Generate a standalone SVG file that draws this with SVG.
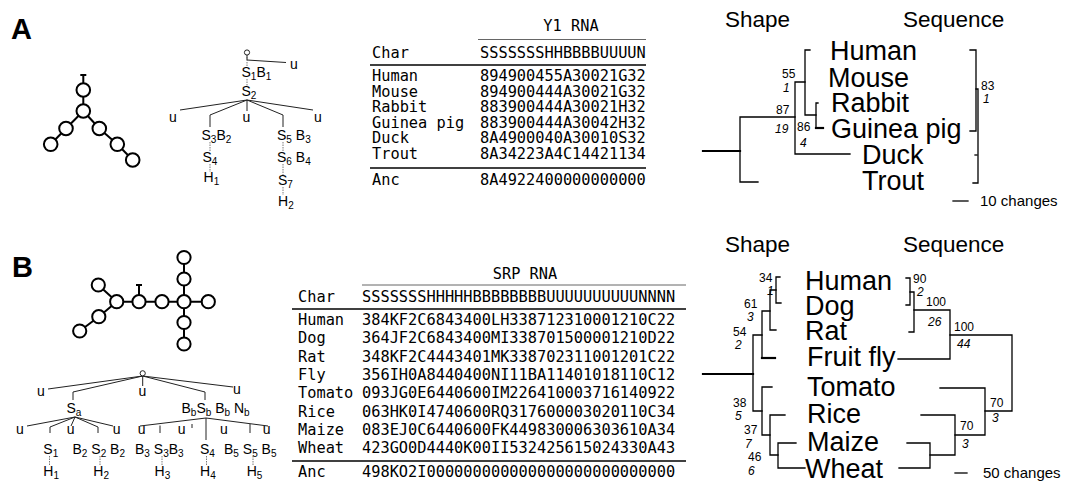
<svg xmlns="http://www.w3.org/2000/svg" width="1066" height="482" viewBox="0 0 1066 482">
  <style>
    .sans { font-family: "Liberation Sans", Arial, Helvetica, sans-serif; fill: #000; }
    .mono { font-family: "DejaVu Sans Mono", "Liberation Mono", monospace; font-size: 15.3px; fill: #000; }
    .panel { font-size: 29px; font-weight: bold; }
    .node { font-size: 14px; }
    .taxon { font-size: 27px; }
    .head { font-size: 22.5px; }
    .bs { font-size: 12px; }
    .it { font-size: 12px; font-style: italic; }
    .scale { font-size: 15px; }
    .rna line { stroke: #000; stroke-width: 2; }
    .rna circle { fill: #fff; stroke: #000; stroke-width: 2; }
    .fan { stroke: #222; stroke-width: 1; fill: none; }
    .dot { stroke: #555; stroke-width: 0.8; stroke-dasharray: 1.5 1; fill: none; }
    .root { fill: #fff; stroke: #222; stroke-width: 1; }
    .rule { stroke: #000; stroke-width: 1.3; }
    .rule-thin { stroke: #555; stroke-width: 0.9; }
    .br { stroke: #000; stroke-width: 1.3; fill: none; stroke-linecap: square; }
    .thick { stroke-width: 2.2; }
  </style>

  <!-- ============ Panel A ============ -->
  <text class="sans panel" x="11" y="39">A</text>

  <!-- Y1 RNA secondary structure -->
  <g id="a-structure" class="rna">
    <line x1="83.3" y1="83" x2="83.3" y2="75"/>
    <line x1="80.3" y1="75" x2="86.3" y2="75"/>
    <line x1="83.3" y1="90" x2="83.3" y2="111"/>
    <line x1="83.3" y1="111" x2="66" y2="128.5"/>
    <line x1="66" y1="128.5" x2="50.7" y2="144.3"/>
    <line x1="83.3" y1="111" x2="99.3" y2="128.5"/>
    <line x1="99.3" y1="128.5" x2="117.3" y2="144.3"/>
    <line x1="117.3" y1="144.3" x2="132.7" y2="160"/>
    <circle cx="83.3" cy="90" r="6.8"/>
    <circle cx="83.3" cy="111" r="6.8"/>
    <circle cx="66" cy="128.5" r="6.8"/>
    <circle cx="50.7" cy="144.3" r="6.8"/>
    <circle cx="99.3" cy="128.5" r="6.8"/>
    <circle cx="117.3" cy="144.3" r="6.8"/>
    <circle cx="132.7" cy="160" r="6.8"/>
  </g>

  <!-- Y1 RNA shape tree: connectors -->
  <g id="a-tree-links">
    <path class="fan" d="M247,55 V60 L286,62.5"/>
    <path class="fan" d="M247,100 L180,110 M247,100 L210,115 V127 M247,100 V111 M247,100 L283,115 V127 M247,100 L313,110"/>
    <path class="dot" d="M247,57 V66 M247,79 V86 M210,142 V151 M210,164 V172 M283,142 V151 M283,164 V175 M283,187 V195"/>
    <circle class="root" cx="247" cy="52.5" r="2.6"/>
  </g>
  <g id="a-tree-nodes" class="sans node">
    <text x="290" y="68.5">u</text>
    <text x="241.5" y="76.5">S<tspan font-size="10" dy="3">1</tspan><tspan dy="-3">B</tspan><tspan font-size="10" dy="3">1</tspan></text>
    <text x="241.5" y="96">S<tspan font-size="10" dy="3">2</tspan></text>
    <text x="173" y="121.5" text-anchor="middle">u</text>
    <text x="246.5" y="121.5" text-anchor="middle">u</text>
    <text x="318" y="121.5" text-anchor="middle">u</text>
    <text x="201.5" y="140">S<tspan font-size="10" dy="3">3</tspan><tspan dy="-3">B</tspan><tspan font-size="10" dy="3">2</tspan></text>
    <text x="202.5" y="161.5">S<tspan font-size="10" dy="3">4</tspan></text>
    <text x="203.5" y="181.5">H<tspan font-size="10" dy="3">1</tspan></text>
    <text x="277" y="140">S<tspan font-size="10" dy="3">5</tspan><tspan dy="-3"> B</tspan><tspan font-size="10" dy="3">3</tspan></text>
    <text x="277" y="161.5">S<tspan font-size="10" dy="3">6</tspan><tspan dy="-3"> B</tspan><tspan font-size="10" dy="3">4</tspan></text>
    <text x="278" y="185">S<tspan font-size="10" dy="3">7</tspan></text>
    <text x="278" y="206">H<tspan font-size="10" dy="3">2</tspan></text>
  </g>

  <!-- Y1 RNA character table -->
  <g id="a-table" class="mono">
    <text x="571" y="31" text-anchor="middle">Y1 RNA</text>
    <line class="rule-thin" x1="478" y1="39.5" x2="646" y2="39.5"/>
    <text x="372" y="57.5">Char</text>
    <text x="480" y="57.5">SSSSSSSHHBBBBUUUUN</text>
    <line class="rule" x1="370" y1="65" x2="646" y2="65"/>
    <text x="372" y="81">Human</text><text x="480" y="81">894900455A30021G32</text>
    <text x="372" y="96.6">Mouse</text><text x="480" y="96.6">894900444A30021G32</text>
    <text x="372" y="112.2">Rabbit</text><text x="480" y="112.2">883900444A30021H32</text>
    <text x="372" y="127.8">Guinea pig</text><text x="480" y="127.8">883900444A30042H32</text>
    <text x="372" y="143.4">Duck</text><text x="480" y="143.4">8A4900040A30010S32</text>
    <text x="372" y="159">Trout</text><text x="480" y="159">8A34223A4C14421134</text>
    <line class="rule" x1="370" y1="168" x2="646" y2="168"/>
    <text x="372" y="185">Anc</text><text x="480" y="185">8A4922400000000000</text>
  </g>

  <!-- Y1 RNA trees -->
  <g id="a-phylo-labels" class="sans">
    <text class="head" x="725" y="27">Shape</text>
    <text class="head" x="903" y="27">Sequence</text>
    <text class="taxon" x="830" y="60">Human</text>
    <text class="taxon" x="828" y="87">Mouse</text>
    <text class="taxon" x="831" y="112">Rabbit</text>
    <text class="taxon" x="831" y="138">Guinea pig</text>
    <text class="taxon" x="862" y="164">Duck</text>
    <text class="taxon" x="862" y="190">Trout</text>
    <text class="bs" x="782" y="78">55</text>
    <text class="it" x="783" y="92">1</text>
    <text class="bs" x="776" y="114">87</text>
    <text class="it" x="775" y="133">19</text>
    <text class="bs" x="797" y="131">86</text>
    <text class="it" x="800" y="147">4</text>
    <text class="bs" x="981" y="90">83</text>
    <text class="it" x="983" y="103">1</text>
    <text class="scale" x="980" y="206">10 changes</text>
  </g>
  <g id="a-phylo-links">
    <path class="br thick" d="M703,151 H740"/>
    <path class="br" d="M758,182 H740 V117 H795"/>
    <path class="br" d="M805,82 H795 V154 H850"/>
    <path class="br" d="M810,50 H805 V115 H816"/>
    <path class="br" d="M818,103 H816 V128"/>
    <path class="br thick" d="M816,128 H823"/>
    <path class="br" d="M970,50 H976 V131 H970"/>
    <path class="br" d="M976,89 H978 V183 H973"/>
    <path class="br" d="M975,155 H977"/>
    <path class="br" d="M953,201 H968"/>
  </g>

  <!-- ============ Panel B ============ -->
  <text class="sans panel" x="12" y="277">B</text>

  <!-- SRP RNA secondary structure -->
  <g id="b-structure" class="rna">
    <line x1="139" y1="295" x2="139" y2="285"/>
    <line x1="136" y1="285" x2="142" y2="285"/>
    <line x1="98.3" y1="285" x2="116.7" y2="301.7"/>
    <line x1="116.7" y1="301.7" x2="208.3" y2="301.7"/>
    <line x1="184" y1="257.5" x2="184" y2="344"/>
    <line x1="116.7" y1="301.7" x2="98.8" y2="316.7"/>
    <line x1="98.8" y1="316.7" x2="79.7" y2="331"/>
    <circle cx="98.3" cy="285" r="6.6"/>
    <circle cx="116.7" cy="301.7" r="6.6"/>
    <circle cx="139" cy="301.7" r="6.6"/>
    <circle cx="162" cy="301.7" r="6.6"/>
    <circle cx="184" cy="301.7" r="6.6"/>
    <circle cx="208.3" cy="301.7" r="6.6"/>
    <circle cx="184" cy="257.5" r="6.6"/>
    <circle cx="184" cy="279" r="6.6"/>
    <circle cx="184" cy="322.5" r="6.6"/>
    <circle cx="184" cy="344" r="6.6"/>
    <circle cx="98.8" cy="316.7" r="6.6"/>
    <circle cx="79.7" cy="331" r="6.6"/>
  </g>

  <!-- SRP RNA shape tree: connectors -->
  <g id="b-tree-links">
    <path class="fan" d="M142.7,376 L48,389 M142.7,376 L73,392 V400 M142.7,376 V386 M142.7,376 L205,392 V400 M142.7,376 L233,387"/>
    <path class="fan" d="M75,417 L27,426 M75,417 L50,427 V433 M75,417 L71,426 M75,417 L98,427 V433 M75,417 L113,426"/>
    <path class="fan" d="M206,418 L140,426 M206,418 L268,426 M160,425.5 V433 M206,418 V440 M250,424 V433 M192,424 V428"/>
    <path class="dot" d="M49.5,456 V465 M100,456 V465 M162,456 V465 M206.5,456 V465 M253,456 V465"/>
    <circle class="root" cx="142.7" cy="373.3" r="2.6"/>
  </g>
  <g id="b-tree-nodes" class="sans node">
    <text x="41" y="396" text-anchor="middle">u</text>
    <text x="142.5" y="396" text-anchor="middle">u</text>
    <text x="237" y="394" text-anchor="middle">u</text>
    <text x="66.5" y="413">S<tspan font-size="10" dy="3">a</tspan></text>
    <text x="181.5" y="413">B<tspan font-size="10" dy="3">b</tspan><tspan dy="-3">S</tspan><tspan font-size="10" dy="3">b</tspan><tspan dy="-3"> B</tspan><tspan font-size="10" dy="3">b</tspan><tspan dy="-3"> N</tspan><tspan font-size="10" dy="3">b</tspan></text>
    <text x="20" y="433.5" text-anchor="middle">u</text>
    <text x="70.7" y="433.5" text-anchor="middle">u</text>
    <text x="116.7" y="433.5" text-anchor="middle">u</text>
    <text x="141.7" y="433.5" text-anchor="middle">u</text>
    <text x="181.7" y="433.5" text-anchor="middle">u</text>
    <text x="224" y="433.5" text-anchor="middle">u</text>
    <text x="266.7" y="433.5" text-anchor="middle">u</text>
    <text x="43.3" y="453.5">S<tspan font-size="10" dy="3">1</tspan></text>
    <text x="72.5" y="453.5">B<tspan font-size="10" dy="3">2</tspan><tspan dy="-3"> S</tspan><tspan font-size="10" dy="3">2</tspan><tspan dy="-3"> B</tspan><tspan font-size="10" dy="3">2</tspan></text>
    <text x="135" y="453.5">B<tspan font-size="10" dy="3">3</tspan><tspan dy="-3"> S</tspan><tspan font-size="10" dy="3">3</tspan><tspan dy="-3">B</tspan><tspan font-size="10" dy="3">3</tspan></text>
    <text x="200" y="453.5">S<tspan font-size="10" dy="3">4</tspan></text>
    <text x="224" y="453.5">B<tspan font-size="10" dy="3">5</tspan><tspan dy="-3"> S</tspan><tspan font-size="10" dy="3">5</tspan><tspan dy="-3"> B</tspan><tspan font-size="10" dy="3">5</tspan></text>
    <text x="43.3" y="476">H<tspan font-size="10" dy="3">1</tspan></text>
    <text x="93.3" y="476">H<tspan font-size="10" dy="3">2</tspan></text>
    <text x="154.5" y="476">H<tspan font-size="10" dy="3">3</tspan></text>
    <text x="200" y="476">H<tspan font-size="10" dy="3">4</tspan></text>
    <text x="246.7" y="476">H<tspan font-size="10" dy="3">5</tspan></text>
  </g>

  <!-- SRP RNA character table -->
  <g id="b-table" class="mono">
    <text x="525" y="279" text-anchor="middle">SRP RNA</text>
    <line class="rule-thin" x1="362" y1="285" x2="686" y2="285"/>
    <text x="298" y="302">Char</text>
    <text x="362" y="302">SSSSSSSHHHHHBBBBBBBBUUUUUUUUUUNNNN</text>
    <line class="rule" x1="292" y1="309" x2="686" y2="309"/>
    <text x="298" y="325">Human</text><text x="362" y="325">384KF2C6843400LH338712310001210C22</text>
    <text x="298" y="343.3">Dog</text><text x="362" y="343.3">364JF2C6843400MI338701500001210D22</text>
    <text x="298" y="361.6">Rat</text><text x="362" y="361.6">348KF2C4443401MK338702311001201C22</text>
    <text x="298" y="379.9">Fly</text><text x="362" y="379.9">356IH0A8440400NI11BA11401018110C12</text>
    <text x="298" y="398.2">Tomato</text><text x="362" y="398.2">093JG0E6440600IM226410003716140922</text>
    <text x="298" y="416.5">Rice</text><text x="362" y="416.5">063HK0I4740600RQ317600003020110C34</text>
    <text x="298" y="434.8">Maize</text><text x="362" y="434.8">083EJ0C6440600FK449830006303610A34</text>
    <text x="298" y="453.1">Wheat</text><text x="362" y="453.1">423GO0D4440K00II532425615024330A43</text>
    <line class="rule" x1="292" y1="461" x2="686" y2="461"/>
    <text x="298" y="477">Anc</text><text x="362" y="477">498KO2I000000000000000000000000000</text>
  </g>

  <!-- SRP RNA trees -->
  <g id="b-phylo-labels" class="sans">
    <text class="head" x="725" y="252">Shape</text>
    <text class="head" x="903" y="252">Sequence</text>
    <text class="taxon" x="805" y="290">Human</text>
    <text class="taxon" x="805" y="315">Dog</text>
    <text class="taxon" x="805" y="340">Rat</text>
    <text class="taxon" x="807" y="366">Fruit fly</text>
    <text class="taxon" x="807" y="396">Tomato</text>
    <text class="taxon" x="807" y="423">Rice</text>
    <text class="taxon" x="807" y="451">Maize</text>
    <text class="taxon" x="805" y="478">Wheat</text>
    <text class="bs" x="759" y="282">34</text>
    <text class="it" x="767" y="295">1</text>
    <text class="bs" x="744" y="308">61</text>
    <text class="it" x="747" y="321">3</text>
    <text class="bs" x="733" y="336">54</text>
    <text class="it" x="735" y="349">2</text>
    <text class="bs" x="733" y="407">38</text>
    <text class="it" x="735" y="420">5</text>
    <text class="bs" x="744" y="434">37</text>
    <text class="it" x="745" y="448">7</text>
    <text class="bs" x="748" y="461">46</text>
    <text class="it" x="748" y="475">6</text>
    <text class="bs" x="913" y="283">90</text>
    <text class="it" x="917" y="296">2</text>
    <text class="bs" x="926" y="306">100</text>
    <text class="it" x="928" y="326">26</text>
    <text class="bs" x="954" y="331">100</text>
    <text class="it" x="957" y="348">44</text>
    <text class="bs" x="990" y="407">70</text>
    <text class="it" x="992" y="422">3</text>
    <text class="bs" x="960" y="430">70</text>
    <text class="it" x="962" y="448">3</text>
    <text class="scale" x="983" y="478">50 changes</text>
  </g>
  <g id="b-phylo-links">
    <path class="br thick" d="M703,374 H753"/>
    <path class="br" d="M762,335 H753 V411 H762"/>
    <path class="br" d="M770,311 H762 V358"/>
    <path class="br thick" d="M762,358 H775"/>
    <path class="br" d="M776,290 H770 V330 H776"/>
    <path class="br" d="M780,277 H776 V303 H781"/>
    <path class="br" d="M772,387 H762 V435 H770"/>
    <path class="br" d="M785,415 H770 V455 H778"/>
    <path class="br" d="M796,443 H778 V468 H805"/>
    <path class="br" d="M906,278 H910 V305 H906"/>
    <path class="br" d="M910,292 H914 V332 H909"/>
    <path class="br" d="M914,310 H950 V359 H898"/>
    <path class="br" d="M950,335 H1012 V411 H985"/>
    <path class="br" d="M940,388 H985 V435 H955"/>
    <path class="br" d="M921,415 H955 V455 H930"/>
    <path class="br" d="M907,443 H930 V468 H899"/>
    <path class="br" d="M955,473 H967"/>
  </g>
</svg>
